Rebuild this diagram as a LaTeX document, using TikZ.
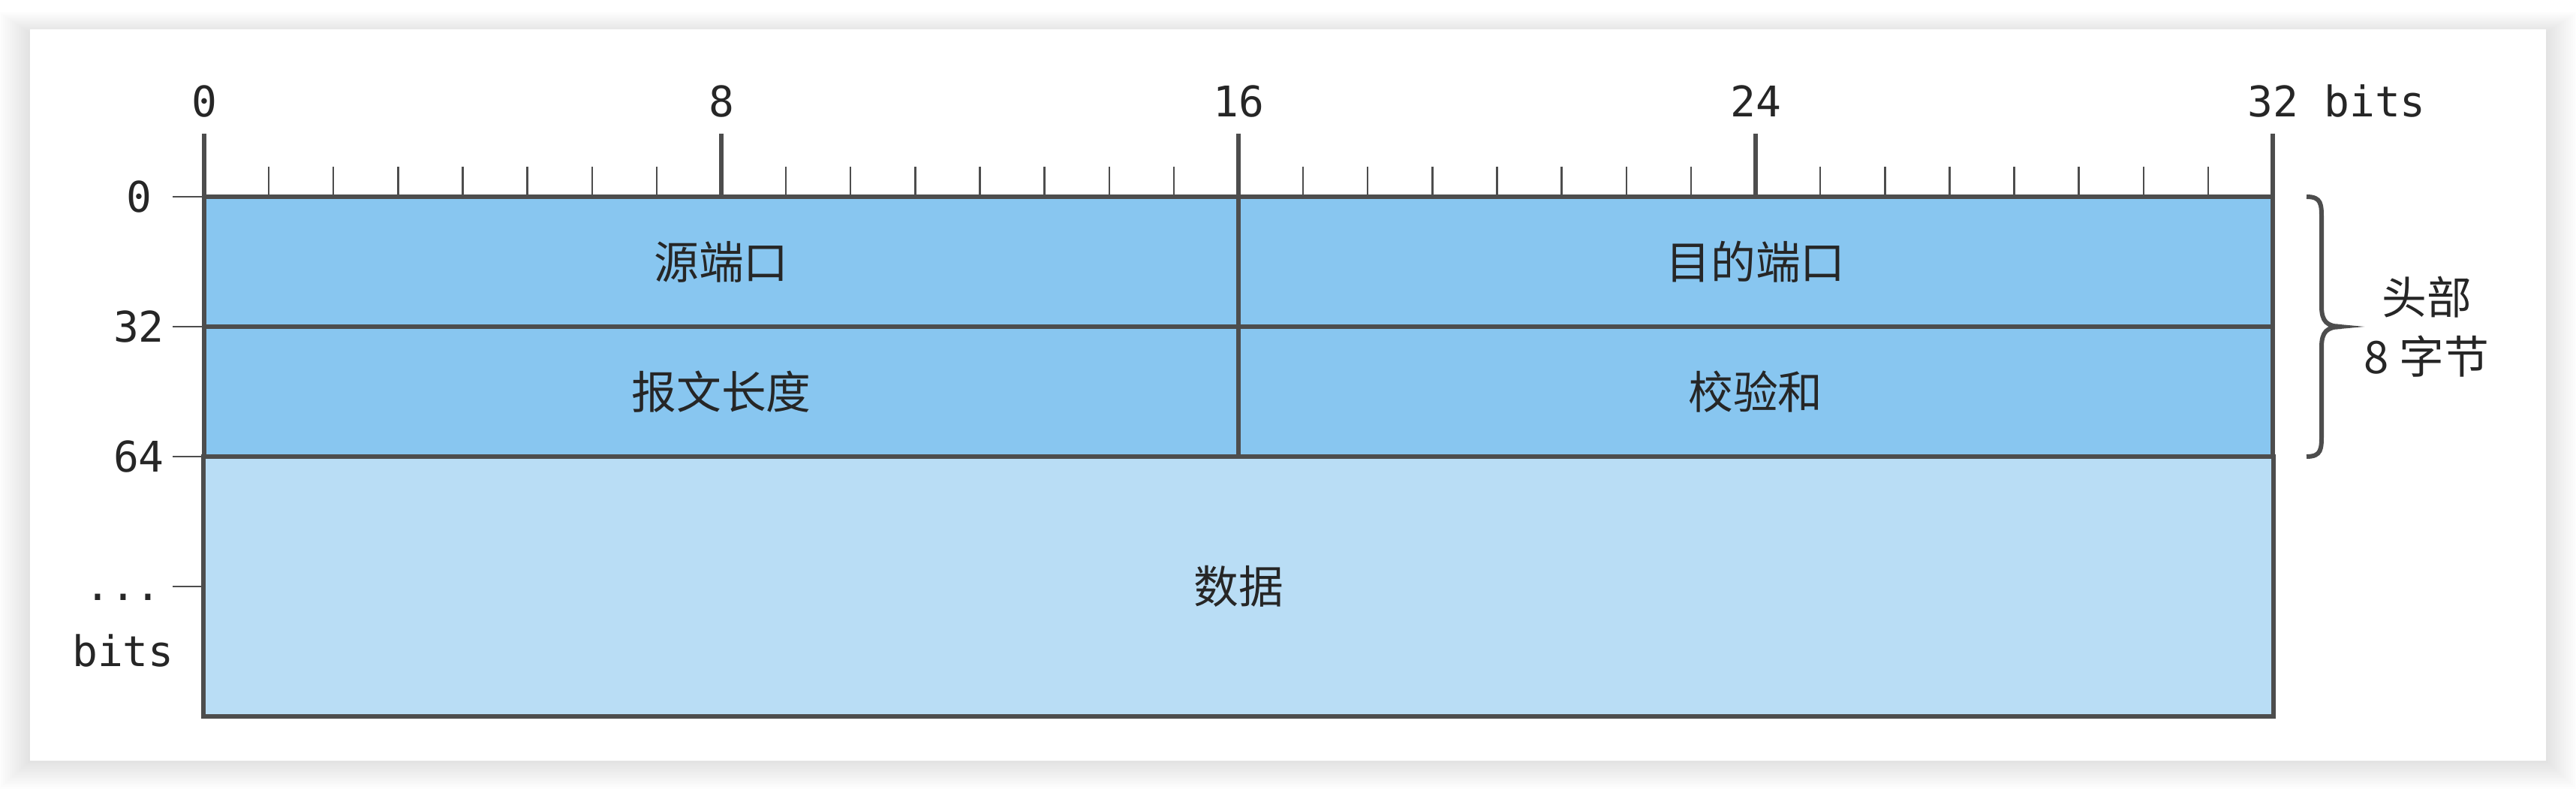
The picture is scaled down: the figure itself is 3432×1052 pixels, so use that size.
\documentclass[tikz,border=0pt]{standalone}
\usepackage{fontspec}
\setmainfont{DejaVu Sans}
\newfontfamily\cjk{Noto Sans CJK SC}
\newfontfamily\monof{DejaVu Sans Mono}
\definecolor{ln}{HTML}{4D4D4D}
\definecolor{hdr}{HTML}{88C6F0}
\definecolor{dat}{HTML}{B9DDF5}
\definecolor{txt}{HTML}{262626}
\tikzset{
  field/.style={draw=ln, line width=1.7pt, inner sep=0pt, text=txt,
    font=\cjk\fontsize{17}{20}\selectfont},
  hfield/.style={field, fill=hdr, minimum height=1.73cm},
  numlbl/.style={inner sep=0pt, text=txt, font=\monof\fontsize{16}{20}\selectfont},
  majortick/.style={draw=ln, line width=1.7pt},
  minortick/.style={draw=ln, line width=0.7pt},
  sidetick/.style={draw=ln, line width=0.7pt},
  bracelbl/.style={inner sep=0pt, text=txt, align=center,
    font=\cjk\fontsize{17}{22.5}\selectfont}
}
\begin{document}
\begin{tikzpicture}[x=0.01cm,y=-0.01cm]
\useasboundingbox (0,0) rectangle (3432,1052);
\fill[white] (0,0) rectangle (3432,1052);
% card shadow
\foreach \i in {1,...,14}{
  \fill[black, opacity=0.009] (40-3*\i,44-2*\i) rectangle (3392+3*\i,1013+2.7*\i);
}
\fill[white] (40,39) rectangle (3392,1013);

% fields
\node[field, fill=dat, minimum width=27.56cm, minimum height=3.46cm] (data) at (1650,781) {数据};
\node[hfield, minimum width=13.78cm] (src) at (961,348.5) {源端口};
\node[hfield, minimum width=13.78cm] (dst) at (2339,348.5) {目的端口};
\node[hfield, minimum width=13.78cm] (len) at (961,521.5) {报文长度};
\node[hfield, minimum width=13.78cm] (chk) at (2339,521.5) {校验和};

% top ruler
\foreach \k in {1,...,31}{
  \draw[minortick] (272+86.125*\k,222) -- (272+86.125*\k,262);
}
\foreach \k in {0,...,4}{
  \draw[majortick] (272+689*\k,178) -- (272+689*\k,262);
}
\node[numlbl] (b0) at (272,135) {0};
\node[numlbl] (b8) at (961,135) {8};
\node[numlbl] (b16) at (1650,135) {16};
\node[numlbl] (b24) at (2339,135) {24};
\node[numlbl, anchor=west] (b32) at (2994,135) {32 bits};

% left ruler
\foreach \yy in {262,435,608,781}{
  \draw[sidetick] (230,\yy) -- (272,\yy);
}
\node[numlbl] (r0) at (185,262) {0};
\node[numlbl] (r32) at (185,435) {32};
\node[numlbl] (r64) at (185,608) {64};
\node[numlbl, anchor=base] (rdots) at (164,800) {...};
\node[numlbl, anchor=base] (rbits) at (164,887) {bits};

% brace
\draw[ln, line width=1.7pt] (3073,262) .. controls (3093,262) and (3093,272) .. (3093,292)
  -- (3093,408) .. controls (3093,428) and (3100,435) .. (3120,435);
\draw[ln, line width=1.7pt] (3073,608) .. controls (3093,608) and (3093,598) .. (3093,578)
  -- (3093,462) .. controls (3093,442) and (3100,435) .. (3120,435);
\fill[ln] (3112,431.5) -- (3150,435) -- (3112,438.5) -- cycle;
\coordinate (tip) at (3150,435);
\node[bracelbl] (hdrlbl) at (3233,435) {头部\\8 字节};
\end{tikzpicture}
\end{document}
